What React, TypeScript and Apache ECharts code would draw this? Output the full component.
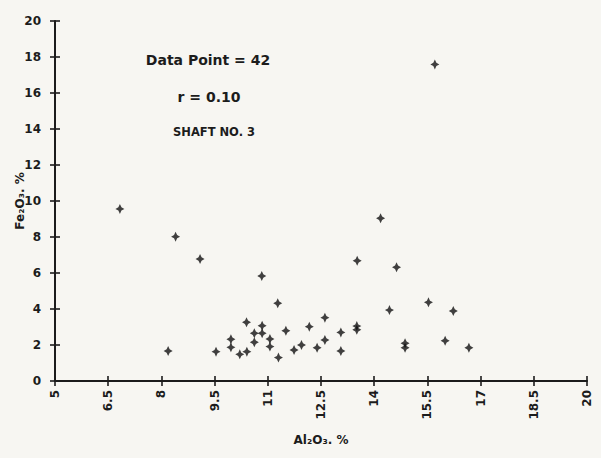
import React, { useEffect, useRef } from "react";
import * as echarts from "echarts";

// Al2O3 (%) and Fe2O3 (%) values
const al2o3 = [
  6.83, 8.40, 9.09, 8.19, 9.54, 11.28, 10.40, 10.84, 10.84, 11.51,
  10.62, 10.62, 9.96, 9.96, 11.06, 11.06, 10.21, 10.41, 11.30, 10.83,
  12.17, 12.61, 13.06, 13.51, 13.51, 12.61, 11.95, 11.74, 12.39, 13.06,
  14.18, 14.63, 15.53, 14.43, 16.23, 14.87, 14.87, 16.00, 16.67, 15.71,
  13.52,
];
const fe2o3 = [
  9.56, 8.02, 6.78, 1.67, 1.63, 4.32, 3.26, 3.07, 2.65, 2.79,
  2.65, 2.15, 2.32, 1.87, 2.33, 1.91, 1.48, 1.63, 1.30, 5.83,
  3.02, 3.52, 2.70, 3.05, 2.85, 2.28, 2.00, 1.72, 1.85, 1.67,
  9.04, 6.32, 4.37, 3.94, 3.89, 2.10, 1.85, 2.24, 1.85, 17.59,
  6.68,
];

const xTicks = [5, 6.5, 8, 9.5, 11, 12.5, 14, 15.5, 17, 18.5, 20];
const yTicks = [0, 2, 4, 6, 8, 10, 12, 14, 16, 18, 20];

const annotations = ["Data Point = 42", "r = 0.10", "SHAFT NO. 3"];

const FONT = "DejaVu Sans";
const INK = "#1c1c1c";

const starPath =
  "path://M0,-10 L3.4,-3.4 L10,0 L3.4,3.4 L0,10 L-3.4,3.4 L-10,0 L-3.4,-3.4 Z";

export default function App() {
  const ref = useRef<HTMLDivElement>(null);

  useEffect(() => {
    if (!ref.current) return;
    const chart = echarts.init(ref.current, null, { renderer: "svg" });
    const lineStyle = { color: INK, width: 2 };
    const tickStyle = { color: INK, width: 1.6 };
    const labelStyle = {
      color: INK,
      fontFamily: FONT,
      fontWeight: "bold" as const,
      fontSize: 12,
    };
    chart.setOption({
      animation: false,
      backgroundColor: "#f7f6f2",
      grid: {
        left: 55,
        right: 14,
        top: 21,
        bottom: 77,
        containLabel: false,
        outerBoundsMode: "none",
      },
      xAxis: [
        {
          type: "value",
          min: 5,
          max: 20,
          position: "bottom",
          name: "Al₂O₃. %",
          nameLocation: "middle",
          nameGap: 53,
          nameMoveOverlap: false,
          nameTextStyle: { ...labelStyle, fontSize: 12 },
          axisLine: { show: true, onZero: false, lineStyle },
          axisTick: { show: true, length: 5, customValues: xTicks, lineStyle: tickStyle },
          axisLabel: { ...labelStyle, customValues: xTicks, rotate: 90, margin: 9 },
          splitLine: { show: false },
        },
        {
          type: "value",
          min: 5,
          max: 20,
          position: "bottom",
          axisLine: { show: false },
          axisTick: { show: true, inside: true, length: 5, customValues: xTicks, lineStyle: tickStyle },
          axisLabel: { show: false },
          splitLine: { show: false },
        },
      ],
      yAxis: [
        {
          type: "value",
          min: 0,
          max: 20,
          position: "left",
          name: "Fe₂O₃. %",
          nameLocation: "middle",
          nameGap: 29,
          nameMoveOverlap: false,
          nameTextStyle: { ...labelStyle, fontSize: 12 },
          axisLine: { show: true, onZero: false, lineStyle },
          axisTick: { show: true, length: 5, customValues: yTicks, lineStyle: tickStyle },
          axisLabel: { ...labelStyle, customValues: yTicks, margin: 14 },
          splitLine: { show: false },
        },
        {
          type: "value",
          min: 0,
          max: 20,
          position: "left",
          axisLine: { show: false },
          axisTick: { show: true, inside: true, length: 5, customValues: yTicks, lineStyle: tickStyle },
          axisLabel: { show: false },
          splitLine: { show: false },
        },
      ],
      graphic: [
        {
          type: "text",
          x: 208,
          y: 60,
          style: {
            text: annotations[0],
            fill: INK,
            font: `bold 14px "${FONT}"`,
            align: "center",
            verticalAlign: "middle",
          },
        },
        {
          type: "text",
          x: 209,
          y: 97,
          style: {
            text: annotations[1],
            fill: INK,
            font: `bold 14px "${FONT}"`,
            align: "center",
            verticalAlign: "middle",
          },
        },
        {
          type: "text",
          x: 214,
          y: 132,
          style: {
            text: annotations[2],
            fill: INK,
            font: `bold 11.5px "${FONT}"`,
            align: "center",
            verticalAlign: "middle",
          },
        },
      ],
      series: [
        {
          type: "scatter",
          xAxisIndex: 0,
          yAxisIndex: 0,
          data: al2o3.map((x, i) => [x, fe2o3[i]]),
          symbol: starPath,
          symbolSize: [9, 10],
          itemStyle: { color: "#111" },
        },
      ],
    });
    return () => chart.dispose();
  }, []);

  return (
    <div
      ref={ref}
      style={{ position: "fixed", left: 0, top: 0, width: 601, height: 458 }}
    />
  );
}
